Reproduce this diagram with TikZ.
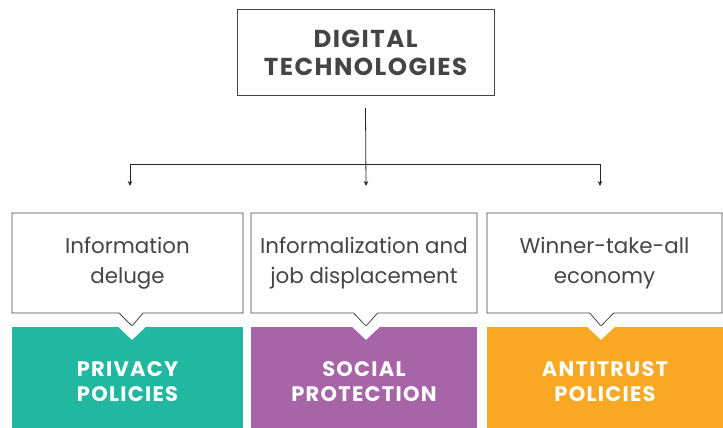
\documentclass[tikz,border=0pt]{standalone}
\usepackage{fontspec}
\setmainfont{Poppins}
\newfontfamily\headfont[LetterSpace=6]{Poppins}
\usetikzlibrary{shapes.callouts,arrows.meta,positioning}
\definecolor{textgray}{HTML}{454545}
\definecolor{privacy}{HTML}{22B89F}
\definecolor{social}{HTML}{A765A8}
\definecolor{antitrust}{HTML}{F9A823}
\newcommand{\twolines}[2]{\raisebox{-6pt}[\height][\depth]{\begin{tabular}{@{}c@{}}#1\\#2\end{tabular}}}
\begin{document}
\begin{tikzpicture}[x=1pt,y=-1pt,
  head/.style = {draw=textgray, line width=0.8pt, minimum width=257pt, minimum height=86pt, align=center, text=textgray, font=\headfont\bfseries\fontsize{24.5}{28}\selectfont},
  issue/.style = {rectangle callout, draw=textgray, line width=0.8pt, fill=white, minimum height=100pt, align=center, text=textgray, callout pointer width=24pt, font=\fontsize{21.4}{30}\selectfont},
  policy/.style = {minimum height=101pt, inner sep=0pt, align=center, text=white, font=\headfont\bfseries\fontsize{21}{25}\selectfont},
  link/.style = {-{Stealth[length=5pt,width=4.5pt]}, line width=0.8pt, draw=black!85}]
    \useasboundingbox (0,0) rectangle (723,428);

    \node[head] (digital) at (365.5,52.5) {DIGITAL\\TECHNOLOGIES};

    \node[issue, minimum width=231pt, callout absolute pointer={(132,326)}] (deluge) at (127.5,263) {Information\\deluge};
    \node[issue, minimum width=226pt, callout absolute pointer={(366,326)}] (displace) at (364,263) {Informalization and\\job displacement};
    \node[issue, minimum width=235pt, callout absolute pointer={(601,326)}] (winner) at (604.5,263) {Winner-take-all\\economy};

    \node[policy, fill=privacy, minimum width=231pt] (privacy) at (127.5,377.5) {\twolines{PRIVACY}{POLICIES}};
    \node[policy, fill=social, minimum width=226pt] (social) at (364,377.5) {\twolines{SOCIAL}{PROTECTION}};
    \node[policy, fill=antitrust, minimum width=236pt] (antitrust) at (605,377.5) {\twolines{ANTITRUST}{POLICIES}};

    % notches under the callouts
    \foreach \a/\b in {deluge/privacy, displace/social, winner/antitrust}
        \fill[white] (\a.pointer |- \b.north) +(-15,-1) -- +(0,13) -- +(15,-1) -- cycle;

    \coordinate (stem) at ([yshift=-12pt]digital.south);
    \coordinate (split) at (366,164);
    \coordinate (tipL) at (130,186);
    \coordinate (tipM) at (366,186);
    \coordinate (tipR) at (600,186);

    \draw[link] (stem) -- (tipM);
    \draw[link] (split) -| (tipL);
    \draw[link] (split) -| (tipR);
\end{tikzpicture}
\end{document}
